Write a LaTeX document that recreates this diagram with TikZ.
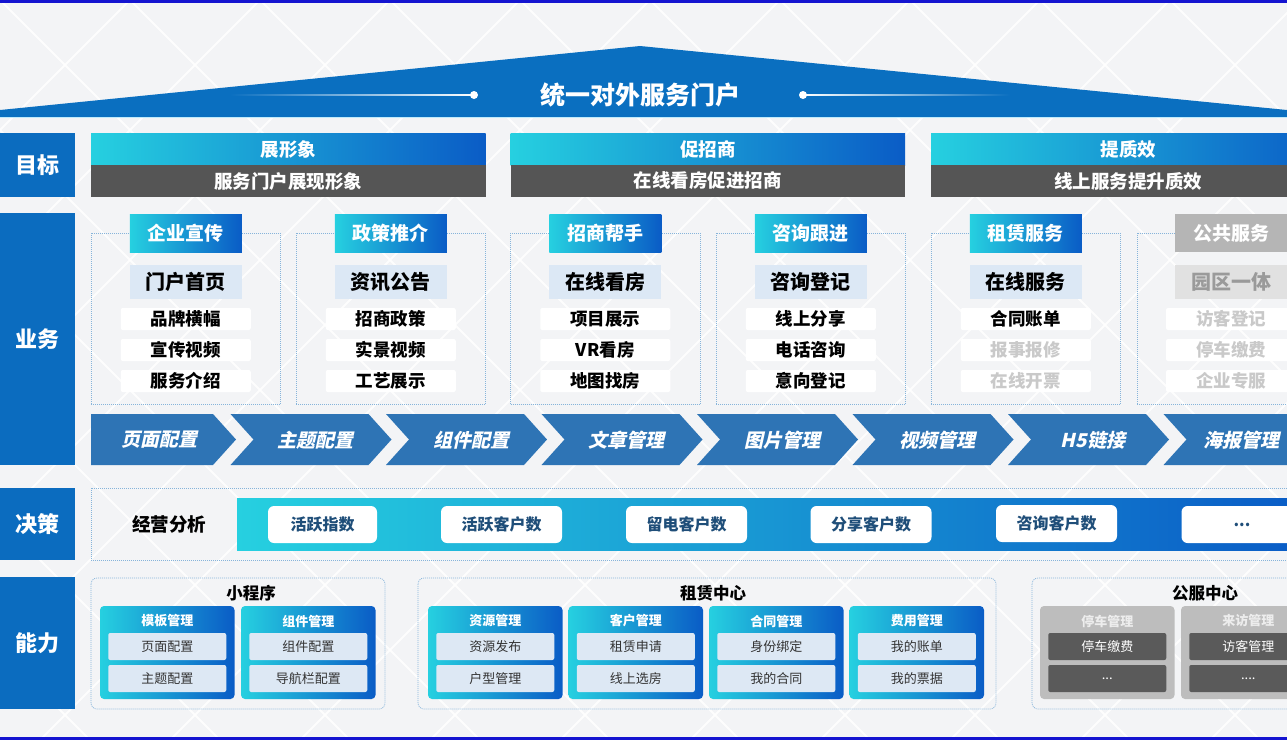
\documentclass[tikz,border=0pt]{standalone}
\usepackage{fontspec}
\setmainfont{Noto Sans CJK SC}
\newfontfamily\slfont{Noto Sans CJK SC}[FakeSlant=0.22]
\def\mydotsa{...}
\def\mydotsb{....}
\definecolor{bgc}{HTML}{F3F4F6}
\definecolor{roofc}{HTML}{0A6FC0}
\definecolor{lblc}{HTML}{0B6CBF}
\definecolor{cyanc}{HTML}{26D0E0}
\definecolor{deepc}{HTML}{0A5CC6}
\definecolor{grayhd}{HTML}{555555}
\definecolor{chevc}{HTML}{2E74B5}
\definecolor{subc}{HTML}{DCE8F5}
\definecolor{dotc}{HTML}{86B4DA}
\definecolor{navyt}{HTML}{1F4E79}
\definecolor{fadet}{HTML}{C9C9C9}
\definecolor{framec}{HTML}{1414D0}
\definecolor{tabgray}{HTML}{B5B5B5}
\definecolor{subgray}{HTML}{E1E1E1}
\definecolor{subgrayt}{HTML}{9A9A9A}
\definecolor{cardgray}{HTML}{BDBDBD}
\definecolor{gitemc}{HTML}{5A5A5A}
\definecolor{capitemc}{HTML}{DDE8F4}
\tikzset{
 every node/.style={inner sep=0pt, outer sep=0pt},
 nw/.style={anchor=north west},
 sidelbl/.style={nw, fill=lblc, text=white, font=\fontsize{22}{22}\selectfont\bfseries, minimum width=75},
 goalhd/.style={nw, left color=cyanc, right color=deepc, text=white, font=\fontsize{18.5}{18.5}\selectfont\bfseries, minimum width=394.5, minimum height=32},
 goalsub/.style={nw, fill=grayhd, text=white, font=\fontsize{18.5}{18.5}\selectfont\bfseries, minimum width=394.5, minimum height=32},
 bizbox/.style={nw, draw=dotc, dash pattern=on 1pt off 1pt, line width=0.7pt, minimum width=189.5, minimum height=171},
 bluetab/.style={left color=cyanc, right color=deepc, text=white, font=\fontsize{19}{19}\selectfont\bfseries, minimum width=112, minimum height=38},
 graytab/.style={fill=tabgray, text=white, font=\fontsize{19}{19}\selectfont\bfseries, minimum width=112, minimum height=38},
 subhd/.style={fill=subc, text=black, font=\fontsize{20}{20}\selectfont\bfseries, minimum width=112, minimum height=34},
 graysub/.style={fill=subgray, text=subgrayt, font=\fontsize{20}{20}\selectfont\bfseries, minimum width=112, minimum height=34},
 bizitem/.style={fill=white, rounded corners=2pt, minimum width=130, minimum height=22, text=black, font=\fontsize{17.5}{17.5}\selectfont\bfseries},
 chevlbl/.style={text=white, font=\slfont\fontsize{19}{19}\selectfont\bfseries},
 metric/.style={fill=white, rounded corners=6pt, text=navyt, font=\fontsize{16}{16}\selectfont\bfseries, minimum width=121, minimum height=37},
 dotbox/.style={draw=dotc, dash pattern=on 1pt off 1pt, line width=0.7pt},
 captitle/.style={text=black, font=\fontsize{16.5}{16.5}\selectfont\bfseries},
 capcard/.style={nw, rounded corners=4pt, left color=cyanc, right color=deepc, minimum width=134.5, minimum height=93},
 gcard/.style={nw, rounded corners=4pt, fill=cardgray, minimum width=134.5, minimum height=93},
 cardhd/.style={text=white, font=\fontsize{13}{13}\selectfont\bfseries},
 capitem/.style={fill=capitemc, rounded corners=2pt, minimum width=118, minimum height=27, text=black!80, font=\fontsize{13}{13}\selectfont},
 gitem/.style={fill=gitemc, rounded corners=2pt, minimum width=118, minimum height=27, text=white, font=\fontsize{13}{13}\selectfont},
}
\begin{document}
\begin{tikzpicture}[x=1pt,y=-1pt]
\useasboundingbox (0,0) rectangle (1287,740);
\clip (0,0) rectangle (1287,740);
% background
\fill[bgc] (0,0) rectangle (1287,740);
\foreach \i in {-7,...,17} {
  \draw[white, line width=2pt, opacity=0.85] (\i*130,0) -- ++(760,760);
  \draw[white, line width=2pt, opacity=0.85] (\i*130,0) -- ++(-760,760);
}
% frame lines
\fill[framec] (0,0) rectangle (1287,2.5);
\fill[framec] (0,737) rectangle (1287,740);
% roof
\fill[roofc] (0,117) -- (0,110) -- (640,46) -- (1287,110) -- (1287,117) -- cycle;
\draw[cyan!25, line width=1pt] (0,117.5) -- (1287,117.5);
\node[text=white, font=\fontsize{25}{25}\selectfont\bfseries] (title) at (640,95) {统一对外服务门户};
\coordinate (tla) at (230,94.4);
\coordinate (tlb) at (474,95.6);
\coordinate (tra) at (803,94.4);
\coordinate (trb) at (1010,95.6);
\shade[left color=roofc, right color=white] (tla) rectangle (tlb);
\shade[left color=white, right color=roofc] (tra) rectangle (trb);
\node[circle, fill=white, minimum size=8] (dl) at (474,95) {};
\node[circle, fill=white, minimum size=8] (dr) at (803,95) {};
% side labels
\node[sidelbl, minimum height=64] (lgoal) at (0,133) {目标};
\node[sidelbl, minimum height=252] (lbiz) at (0,213) {业务};
\node[sidelbl, minimum height=72] (ldec) at (0,488) {决策};
\node[sidelbl, minimum height=132] (lcap) at (0,577) {能力};
% goals
\foreach \x/\h/\s [count=\i] in {91/展形象/服务门户展现形象, 510.5/促招商/在线看房促进招商, 931/提质效/线上服务提升质效} {
  \node[goalhd] (gh\i) at (\x,133) {\h};
  \node[goalsub] (gs\i) at (\x,165) {\s};
}
% business boxes
\foreach \x/\t/\s/\a/\b/\c [count=\i] in {91/企业宣传/门户首页/品牌横幅/宣传视频/服务介绍, 296/政策推介/资讯公告/招商政策/实景视频/工艺展示, 510.5/招商帮手/在线看房/项目展示/VR看房/地图找房, 716/咨询跟进/咨询登记/线上分享/电话咨询/意向登记} {
  \node[bizbox] (bb\i) at (\x,233) {};
  \node[bluetab] (bt\i) at (\x+94.75,233) {\t};
  \node[subhd] (bs\i) at (\x+94.75,282) {\s};
  \node[bizitem] (ba\i) at (\x+94.75,319) {\a};
  \node[bizitem] (bbb\i) at (\x+94.75,350) {\b};
  \node[bizitem] (bc\i) at (\x+94.75,381) {\c};
}
\node[bizbox] (bb5) at (931,233) {};
\node[bluetab] (bt5) at (1025.75,233) {租赁服务};
\node[subhd] (bs5) at (1025.75,282) {在线服务};
\node[bizitem] (ba5) at (1025.75,319) {合同账单};
\node[bizitem, text=fadet] (bbb5) at (1025.75,350) {报事报修};
\node[bizitem, text=fadet] (bc5) at (1025.75,381) {在线开票};
\node[bizbox] (bb6) at (1137,233) {};
\node[graytab] (bt6) at (1231,233) {公共服务};
\node[graysub] (bs6) at (1231,282) {园区一体};
\node[bizitem, text=fadet] (ba6) at (1231,319) {访客登记};
\node[bizitem, text=fadet] (bbb6) at (1231,350) {停车缴费};
\node[bizitem, text=fadet] (bc6) at (1231,381) {企业专服};
% chevrons
\fill[chevc] (91,414) -- (213,414) -- (236,439.5) -- (213,465) -- (91,465) -- cycle;
\node[chevlbl] (cv0) at (159,440) {页面配置};
\foreach \t/\dx [count=\k] in {主题配置/85,组件配置/85,文章管理/85,图片管理/85,视频管理/85,H5链接/85,海报管理/78} {
  \pgfmathsetmacro{\xs}{75+155.5*\k}
  \fill[chevc] (\xs,414) -- (\xs+138,414) -- (\xs+161,439.5) -- (\xs+138,465) -- (\xs,465) -- (\xs+23,439.5) -- cycle;
  \node[chevlbl] (cv\k) at (\xs+\dx,440) {\t};
}
% decision
\draw[dotbox] (91,488) rectangle (1300,560);
\node[text=black, font=\fontsize{18.5}{18.5}\selectfont\bfseries] (jy) at (169,524) {经营分析};
\shade[left color=cyanc, right color=deepc] (237,498) rectangle (1300,550);
\node[metric, minimum width=109] (m1) at (322.5,524.5) {活跃指数};
\node[metric] (m2) at (501.5,524.5) {活跃客户数};
\node[metric] (m3) at (686.5,524.5) {留电客户数};
\node[metric] (m4) at (871,524.5) {分享客户数};
\node[metric] (m5) at (1056.5,523.5) {咨询客户数};
\node[metric] (m6) at (1242,524.5) {\mydotsa};
% capability
\draw[dotbox, rounded corners=6pt] (91,578) rectangle (385,709);
\draw[dotbox, rounded corners=6pt] (418,578) rectangle (996,709);
\draw[dotbox, rounded corners=6pt] (1032,578) rectangle (1320,709);
\node[captitle] (ct1) at (251,593) {小程序};
\node[captitle] (ct2) at (713,593) {租赁中心};
\node[captitle] (ct3) at (1205,593) {公服中心};
\foreach \x/\h/\a/\b [count=\i] in {100/模板管理/页面配置/主题配置, 241/组件管理/组件配置/导航栏配置, 428/资源管理/资源发布/户型管理, 568.5/客户管理/租赁申请/线上选房, 709/合同管理/身份绑定/我的合同, 849.5/费用管理/我的账单/我的票据} {
  \node[capcard] (cc\i) at (\x,606) {};
  \node[cardhd] (ch\i) at (\x+67.25,621) {\h};
  \node[capitem] (ca\i) at (\x+67.25,646.5) {\a};
  \node[capitem] (cb\i) at (\x+67.25,678.5) {\b};
}
\foreach \x/\h/\a/\b [count=\i from 7] in {1040/停车管理/停车缴费/\mydotsa, 1181/来访管理/访客管理/\mydotsb} {
  \node[gcard] (cc\i) at (\x,606) {};
  \node[cardhd, text=white!93!black] (ch\i) at (\x+67.25,621) {\h};
  \node[gitem] (ca\i) at (\x+67.25,646.5) {\a};
  \node[gitem] (cb\i) at (\x+67.25,678.5) {\b};
}
\end{tikzpicture}
\end{document}
